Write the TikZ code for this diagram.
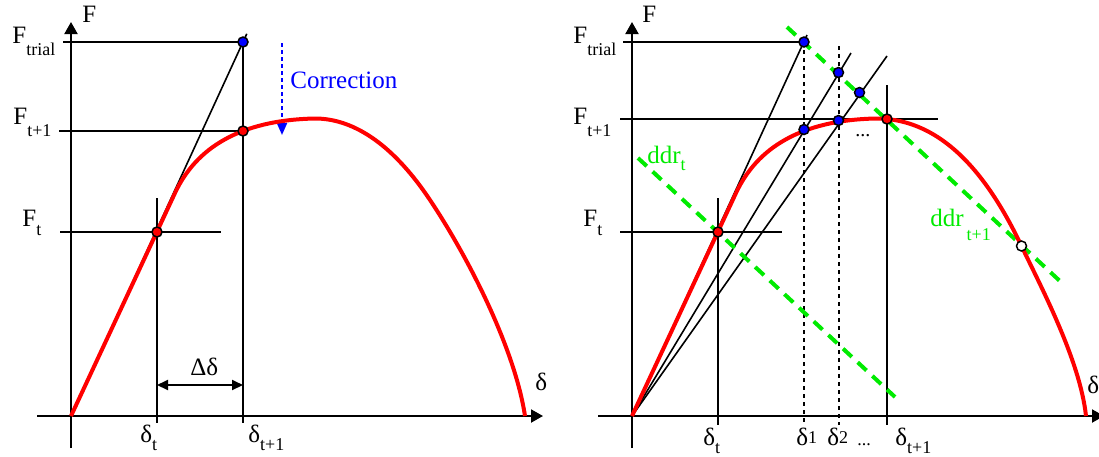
\documentclass[tikz,border=0pt]{standalone}
\usepackage{fontspec}
\setmainfont{Liberation Serif}
\usetikzlibrary{arrows.meta,calc}
\definecolor{ddrgreen}{RGB}{0,235,0}
\definecolor{pureblue}{RGB}{0,0,255}
\newcommand\lsub[2][5pt]{\raisebox{-#1}{\fontsize{9}{10}\selectfont #2}}
\newcommand\lsup[1]{\raisebox{1pt}{\fontsize{9}{10}\selectfont #1}}
\begin{document}
\begin{tikzpicture}[x=0.5pt,y=-0.5pt,
  font=\fontsize{12.5}{15}\selectfont,
  axis/.style={line width=1pt,-{Triangle[length=6pt,width=6.5pt]}},
  thinline/.style={line width=1pt},
  diag/.style={line width=0.8pt},
  curve/.style={red,line width=2pt,line join=round},
  ddr/.style={ddrgreen,line width=2pt,dash pattern=on 6pt off 4pt},
  dotline/.style={line width=1pt,dash pattern=on 2pt off 2pt},
  dotnode/.style={circle,draw=black,line width=0.75pt,inner sep=0pt,minimum size=5pt},
  reddot/.style={dotnode,fill=red},
  bluedot/.style={dotnode,fill=pureblue},
  whitedot/.style={dotnode,fill=white},
  lbl/.style={inner sep=0pt,anchor=base west},
  dblarrow/.style={line width=1pt,{Triangle[length=5.5pt,width=5pt]}-{Triangle[length=5.5pt,width=5pt]}},
  corr/.style={pureblue,line width=1pt,dash pattern=on 2pt off 1.5pt,-{Triangle[length=6pt,width=5pt]}}
]
\useasboundingbox (0,0) rectangle (1099,456);

% ================= LEFT PANEL =================
\coordinate (O1) at (71,416);
\coordinate (ya1b) at (71,448);
\coordinate (ya1t) at (71,22);
\coordinate (xa1l) at (37,416);
\coordinate (xa1r) at (543,416);
\coordinate (T1) at (243,42);
\coordinate (C1) at (243,131);
\coordinate (P1) at (157,232);
\coordinate (ftr1s) at (63,42);
\coordinate (ftp1s) at (59,131);
\coordinate (ft1s) at (60,232);
\coordinate (ft1e) at (221,232);
\coordinate (dt1t) at (157,198);
\coordinate (dt1b) at (157,423);
\coordinate (dtp1b) at (243,423);
\coordinate (T1x) at ($(O1)!1.022!(T1)$);
\coordinate (dd1a) at (157,385);
\coordinate (dd1b) at (243,385);
\coordinate (cor1a) at (282,43);
\coordinate (cor1b) at (282,135);

\draw[axis] (ya1b) -- (ya1t);
\draw[axis] (xa1l) -- (xa1r);
\draw[thinline] (ftr1s) -- (T1);
\draw[thinline] (ftp1s) -- (C1);
\draw[thinline] (ft1s) -- (ft1e);
\draw[thinline] (dt1t) -- (dt1b);
\draw[thinline] (T1) -- (dtp1b);
\draw[diag] (O1) -- (T1x);
\draw[dblarrow] (dd1a) -- (dd1b);
\draw[corr] (cor1a) -- (cor1b);

\draw[curve] (O1) -- (175,193)
  .. controls (196,148) and (240,120) .. (315,118.5)
  .. controls (350,118.5) and (390,140) .. (430,200)
  .. controls (470,260) and (515,350) .. (525,416);

\node[bluedot] (bT1) at (T1) {};
\node[reddot] (rC1) at (C1) {};
\node[reddot] (rP1) at (P1) {};

\node[lbl] (lF1) at (82,22) {F};
\node[lbl] (lFtr1) at (12,43) {F\lsub[6pt]{trial}};
\node[lbl] (lFtp1) at (13,124) {F\lsub[6pt]{t+1}};
\node[lbl] (lFt1) at (22,226) {F\lsub[4.5pt]{t}};
\node[lbl] (ld1) at (535,390) {δ};
\node[lbl] (ldt1) at (140,442) {δ\lsub[4pt]{t}};
\node[lbl] (ldtp1) at (248,442) {δ\lsub[4pt]{t+1}};
\node[lbl] (lDd1) at (190,375) {Δδ};
\node[lbl,text=pureblue] (lcor) at (290,88) {Correction};

% ================= RIGHT PANEL =================
\coordinate (O2) at (632,416);
\coordinate (ya2b) at (632,448);
\coordinate (ya2t) at (632,22);
\coordinate (xa2l) at (598,416);
\coordinate (xa2r) at (1104,416);
\coordinate (T2) at (804,42);
\coordinate (B2a) at (838.5,72.5);
\coordinate (B2b) at (859.5,92.5);
\coordinate (B2c) at (804,129.5);
\coordinate (B2d) at (838.5,120.5);
\coordinate (R2) at (887,119);
\coordinate (P2) at (718,232);
\coordinate (W2) at (1021.5,246);
\coordinate (ftr2s) at (623,42);
\coordinate (ftp2s) at (620,119);
\coordinate (ftp2e) at (938,119);
\coordinate (ft2s) at (620,232);
\coordinate (ft2e) at (782,232);
\coordinate (dt2t) at (718,198);
\coordinate (dt2b) at (718,425);
\coordinate (d1b) at (804,425);
\coordinate (d2t) at (838.5,46);
\coordinate (d2b) at (838.5,425);
\coordinate (dtp2t) at (887,85);
\coordinate (dtp2b) at (887,425);
\coordinate (L1e) at (807,35);
\coordinate (L2e) at (851,53);
\coordinate (L3e) at (887,56);
\coordinate (g1a) at (638,158);
\coordinate (g1b) at (895,397);
\coordinate (g2a) at (787,27);
\coordinate (g2b) at (1062,283);

\draw[axis] (ya2b) -- (ya2t);
\draw[axis] (xa2l) -- (xa2r);
\draw[thinline] (ftr2s) -- (T2);
\draw[thinline] (ftp2s) -- (ftp2e);
\draw[thinline] (ft2s) -- (ft2e);
\draw[thinline] (dt2t) -- (dt2b);
\draw[dotline] (T2) -- (d1b);
\draw[dotline] (d2t) -- (d2b);
\draw[thinline] (dtp2t) -- (dtp2b);
\draw[diag] (O2) -- (L1e);
\draw[diag] (O2) -- (L2e);
\draw[diag] (O2) -- (L3e);
\draw[ddr] (g1a) -- (g1b);
\draw[ddr] (g2a) -- (g2b);

\draw[curve] (O2) -- (736,193)
  .. controls (757,148) and (801,120) .. (876,118.5)
  .. controls (945,118.5) and (990,180) .. (W2)
  .. controls (1040,285) and (1080,360) .. (1086,416);

\node[bluedot] (bT2) at (T2) {};
\node[bluedot] (bB2a) at (B2a) {};
\node[bluedot] (bB2b) at (B2b) {};
\node[bluedot] (bB2c) at (B2c) {};
\node[bluedot] (bB2d) at (B2d) {};
\node[reddot] (rR2) at (R2) {};
\node[reddot] (rP2) at (P2) {};
\node[whitedot] (wW2) at (W2) {};

\node[lbl] (lF2) at (642,22) {F};
\node[lbl] (lFtr2) at (573,43) {F\lsub[6pt]{trial}};
\node[lbl] (lFtp2) at (573,124) {F\lsub[6pt]{t+1}};
\node[lbl] (lFt2) at (583,226) {F\lsub[4.5pt]{t}};
\node[lbl,text=ddrgreen] (lddrt) at (647,163) {ddr\lsub[3.5pt]{t}};
\node[lbl,text=ddrgreen] (lddrtp) at (930,226) {ddr\lsub[7pt]{\,t+1}};
\node[lbl] (ldots2) at (855,136) {\fontsize{10}{12}\selectfont ...};
\node[lbl] (ld2) at (1087,393) {δ};
\node[lbl] (ldt2) at (703,445) {δ\lsub[4pt]{t}};
\node[lbl] (ld12) at (796,445) {δ\lsup{1}};
\node[lbl] (ld22) at (827,445) {δ\lsup{2}};
\node[lbl] (ldots3) at (857,445) {\fontsize{9}{10}\selectfont ...};
\node[lbl] (ldtp2) at (895,445) {δ\lsub[4pt]{t+1}};
\end{tikzpicture}
\end{document}
